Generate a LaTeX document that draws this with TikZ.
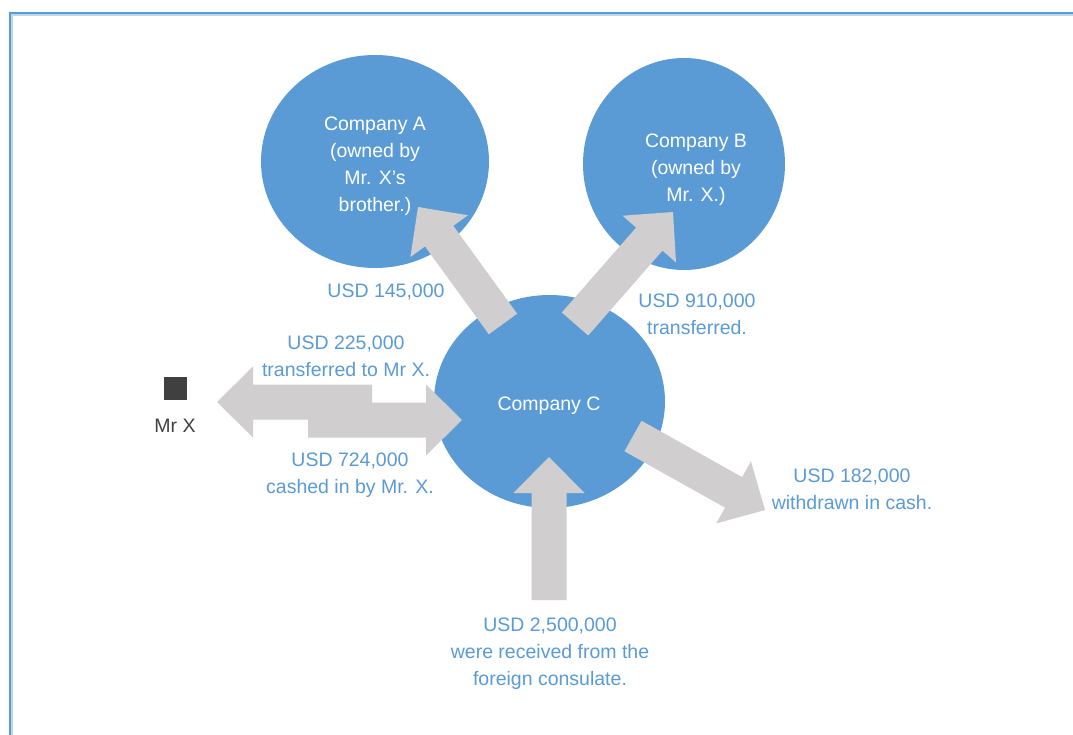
\documentclass[tikz,border=0pt]{standalone}
\usepackage{fontspec}
\setmainfont{Liberation Sans}
\usepackage{tikz}
\usetikzlibrary{calc,shapes.geometric}
\definecolor{cblue}{HTML}{5B9BD5}
\definecolor{cpale}{HTML}{BDD7EE}
\definecolor{agray}{HTML}{D0CECE}
\definecolor{mrgray}{HTML}{404040}
% block arrow from #1 (tail) to #2 (tip)
\newcommand{\flowarrow}[2]{%
  \coordinate (hb) at ($(#2)!36pt!(#1)$);
  \fill[agray] ($(#1)!17.5pt!90:(#2)$) -- ($(hb)!17.5pt!90:(#2)$) -- ($(hb)!35.5pt!90:(#2)$) -- (#2)
    -- ($(hb)!35.5pt!-90:(#2)$) -- ($(hb)!17.5pt!-90:(#2)$) -- ($(#1)!17.5pt!-90:(#2)$) -- cycle;}

\begin{document}
\begin{tikzpicture}[x=1pt, y=-1pt, font=\fontsize{19.5}{27}\selectfont,
    company/.style={ellipse, fill=cblue, inner sep=0pt},
    intext/.style={text=white, align=center, inner sep=0pt},
    amount/.style={text=cblue, align=center, inner sep=0pt}]
      \useasboundingbox (0,0) rectangle (1073,735);
      \fill[white] (0,0) rectangle (1073,735);
      \draw[cpale, line width=1.5pt] (12,15) rectangle (1100,760);
      \draw[cblue, line width=2pt] (10,13) rectangle (1100,760);
      % companies
      \node[company, minimum width=228pt, minimum height=213pt] (A) at (375,161.5) {};
      \node[company, minimum width=202pt, minimum height=212pt] (B) at (684,164) {};
      \node[company, minimum width=231pt, minimum height=213pt] (C) at (549.5,401.5) {};
      \node[intext] (A-txt) at (375,166.5) {Company A\\(owned by\\Mr. X's\\brother.)};
      \node[intext] (B-txt) at (696,169.5) {Company B\\(owned by\\Mr. X.)};
      \node[intext] (C-txt) at (549,406) {Company C};
      % Mr X
      \node[fill=mrgray, minimum size=23pt, inner sep=0pt] (mrx) at (175,388) {};
      \node[text=mrgray, inner sep=0pt] (mrx-lbl) at (175,426) {Mr X};
      % arrow ends
      \coordinate (toA-tail) at (503,324);   \coordinate (toA-tip) at (418,207);
      \coordinate (toB-tail) at (575,324);   \coordinate (toB-tip) at (673,212);
      \coordinate (cash-tail) at (633,436);  \coordinate (cash-tip) at (765,510);
      \coordinate (in-tail) at (549,600);    \coordinate (in-tip) at (549,457);
      \coordinate (toX-tail) at (372,402);   \coordinate (toX-tip) at (217,402);
      \coordinate (fromX-tail) at (308,420); \coordinate (fromX-tip) at (462,420);
      \flowarrow{toA-tail}{toA-tip}
      \flowarrow{toB-tail}{toB-tip}
      \flowarrow{cash-tail}{cash-tip}
      \flowarrow{in-tail}{in-tip}
      \flowarrow{toX-tail}{toX-tip}
      \flowarrow{fromX-tail}{fromX-tip}
      % amounts
      \node[amount] (l145) at (386,291.5) {USD 145,000};
      \node[amount] (l910) at (697,314.5) {USD 910,000\\transferred.};
      \node[amount] (l225) at (346,356.5) {USD 225,000\\transferred to Mr X.};
      \node[amount] (l724) at (350,475.5) {USD 724,000\\cashed in by Mr. X.};
      \node[amount] (l182) at (852,489.5) {USD 182,000\\withdrawn in cash.};
      \node[amount] (l2500) at (550,654) {USD 2,500,000\\were received from the\\foreign consulate.};
    \end{tikzpicture}
\end{document}
